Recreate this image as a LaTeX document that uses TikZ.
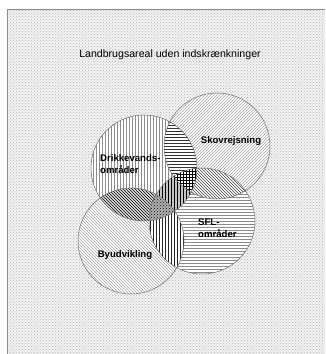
\documentclass[tikz,border=0pt]{standalone}
\usepackage{fontspec}
\setmainfont{Liberation Sans}
\usepackage{tikz}
\usetikzlibrary{patterns}
\definecolor{vpaper}{HTML}{F2F2F2}
\definecolor{vdots}{HTML}{B4B4B4}
\definecolor{vframe}{HTML}{8A8A8A}
\definecolor{vring}{HTML}{6E6E6E}
\definecolor{vhatch}{HTML}{8C8C8C}
\definecolor{vhatchlt}{HTML}{A6A6A6}
\tikzset{
  ring/.style={draw=vring,line width=0.5pt},
  ttl/.style={font=\fontsize{10.6}{12}\selectfont,inner sep=0pt},
  lbl/.style={font=\fontsize{9.6}{12}\selectfont\bfseries,align=left,inner sep=0pt},
}

\begin{document}
\begin{tikzpicture}[x=1pt,y=-1pt]
  \useasboundingbox (0,0) rectangle (325,354);
  % ground
  \fill[vpaper] (7,9) rectangle (325,354);
  \fill[pattern=crosshatch dots,pattern color=vdots] (7,9) rectangle (325,354);
  \draw[vframe,line width=0.8pt] (7,354) -- (7,9) -- (325,9);
  \coordinate (drik) at (144,168);
  \coordinate (skov) at (217,146);
  \coordinate (sfl) at (202,221);
  \coordinate (by) at (131,241);
  % circles
  \foreach \c/\p/\col in {drik/vertical lines/vhatch,skov/north east lines/vhatchlt,sfl/horizontal lines/vhatch,by/north west lines/vhatchlt}{
    \fill[white] (\c) circle (53pt);
    \fill[pattern=\p,pattern color=\col] (\c) circle (53pt);
  }
  % overlaps
  \foreach \a/\b/\p/\bg/\col in {drik/skov/horizontal lines/white/black!80,skov/sfl/north west lines/white/black!75,drik/by/north west lines/gray!25/black,drik/sfl/vertical lines/gray!45/black,by/sfl/vertical lines/white/black!85}{
    \begin{scope}
      \clip (\a) circle (53pt);
      \fill[\bg] (\b) circle (53pt);
      \fill[pattern=\p,pattern color=\col] (\b) circle (53pt);
    \end{scope}
  }
  \begin{scope}
    \clip (drik) circle (53pt); \clip (sfl) circle (53pt);
    \fill[white] (skov) circle (53pt);
    \fill[pattern=grid,pattern color=black] (skov) circle (53pt);
  \end{scope}
  \begin{scope}
    \clip (drik) circle (53pt); \clip (sfl) circle (53pt);
    \fill[gray!60] (by) circle (53pt);
    \fill[pattern=crosshatch dots,pattern color=black] (by) circle (53pt);
  \end{scope}
  \foreach \c in {drik,skov,sfl,by} \draw[ring] (\c) circle (53pt);
  % texts
  \node[ttl] (titel) at (170,55) {Landbrugsareal uden indskrænkninger};
  \node[lbl] (lskov) at (231,141) {Skovrejsning};
  \node[lbl,anchor=west] (ldrik) at (100,164) {Drikkevands-\\områder};
  \node[lbl,anchor=west] (lsfl) at (198,228) {SFL-\\områder};
  \node[lbl] (lby) at (125,255) {Byudvikling};
\end{tikzpicture}
\end{document}
